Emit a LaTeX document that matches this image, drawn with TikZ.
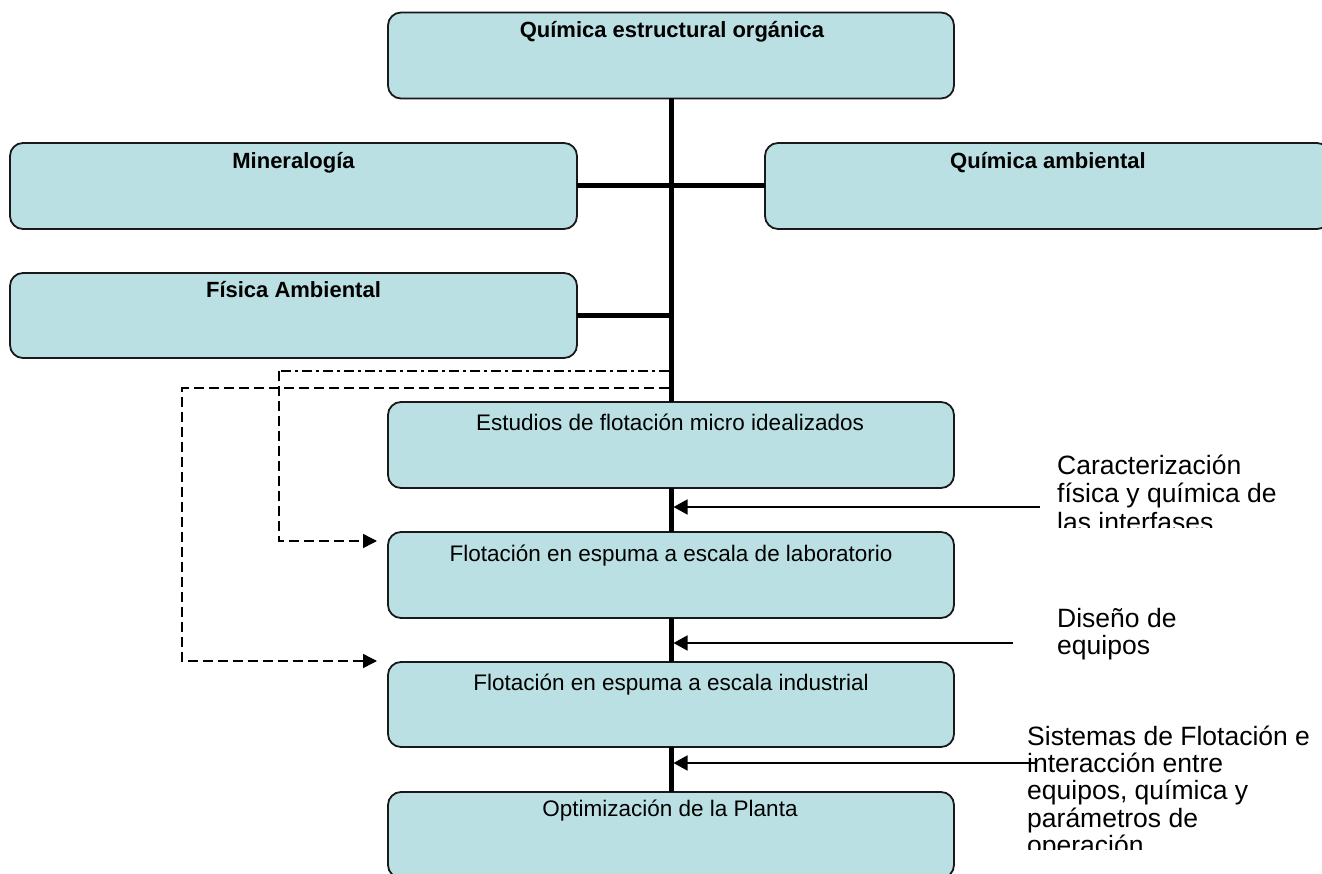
\documentclass[tikz,border=0pt]{standalone}
\usepackage{fontspec}
\setmainfont{Liberation Sans}
\usetikzlibrary{arrows.meta,calc}
\definecolor{boxfill}{RGB}{186,224,227}
\definecolor{boxline}{RGB}{25,25,25}

\begin{document}
\begin{tikzpicture}[x=1pt,y=-1pt,
  stagebox/.style={draw=boxline, line width=1.8pt, fill=boxfill, rounded corners=13pt,
    minimum width=566pt, minimum height=86pt, inner sep=0pt, outer sep=0pt},
  boxtitle/.style={anchor=base, inner sep=0pt, font=\fontsize{22}{26}\selectfont\bfseries},
  boxtext/.style={anchor=base, inner sep=0pt, font=\fontsize{22.5}{27}\selectfont},
  % multi-line labels: the base anchor sits on the last line
  sidetext/.style={anchor=base west, align=left, inner sep=0pt,
    font=\fontsize{26.5}{27.5}\selectfont},
  trunk/.style={line width=5pt},
  feed/.style={line width=1.5pt, -{Triangle[length=14pt,width=15pt]}},
  loopdash/.style={line width=1.5pt, dash pattern=on 10pt off 5pt},
  loopdashdot/.style={line width=1.5pt, dash pattern=on 10pt off 4pt on 3pt off 4pt},
  looptip/.style={-{Triangle[length=14pt,width=14pt]}},
]
\clip (0,0) rectangle (1322,874);
\fill[white] (0,0) rectangle (1322,874);

% main stages
\node[stagebox] (qeo) at (671,55.5) {};
\node[stagebox, minimum width=567pt] (min) at (293.5,186) {};
\node[stagebox, minimum width=565pt] (qamb) at (1047.5,186) {};
\node[stagebox, minimum width=567pt, minimum height=85pt] (fis) at (293.5,315.5) {};
\node[stagebox] (est) at (671,445) {};
\node[stagebox] (lab) at (671,575) {};
\node[stagebox, minimum height=85pt] (ind) at (671,704.5) {};
\node[stagebox] (opt) at (671,835) {};

% stage titles
\node[boxtitle] (qeo-t) at (672,38) {Química estructural orgánica};
\node[boxtitle] (min-t) at (293.5,169) {Mineralogía};
\node[boxtitle] (qamb-t) at (1048,169) {Química ambiental};
\node[boxtitle] (fis-t) at (293.5,298) {Física Ambiental};
\node[boxtext] (est-t) at (670,430) {Estudios de flotación micro idealizados};
\node[boxtext] (lab-t) at (671,561) {Flotación en espuma a escala de laboratorio};
\node[boxtext] (ind-t) at (671,690) {Flotación en espuma a escala industrial};
\node[boxtext] (opt-t) at (670,816) {Optimización de la Planta};

% central trunk and branches
\draw[trunk] (qeo.south) -- (est.north);
\draw[trunk] (min.east) -- (qamb.west);
\draw[trunk] (fis.east) -- (fis.east -| qeo.south);
\draw[trunk] (est.south) -- (lab.north);
\draw[trunk] (lab.south) -- (ind.north);
\draw[trunk] (ind.south) -- (opt.north);

% inputs entering the trunk from the right
\coordinate (in1) at (1040,507);
\coordinate (in2) at (1013,643);
\coordinate (in3) at (1037,763);
\coordinate (t1) at (673.5,507);
\coordinate (t2) at (673.5,643);
\coordinate (t3) at (673.5,763);
\draw[feed] (in1) -- (t1);
\draw[feed] (in2) -- (t2);
\draw[feed] (in3) -- (t3);

% feedback loops on the left
\coordinate (l1s) at (668.5,371);
\coordinate (l1c) at (279,371);
\coordinate (l1e) at (377,541);
\coordinate (l2s) at (668.5,388);
\coordinate (l2e) at (377,661);
\draw[loopdashdot] (l1s) -- (l1c);
\draw[loopdash, looptip] (l1c) |- (l1e);
\draw[loopdash, looptip] (l2s) -| (182,661) -- (l2e);

% side labels (text frames cut off their last line)
\begin{scope}
  \clip (1040,440) rectangle (1322,527);
  \node[sidetext, font=\fontsize{26.5}{28.3}\selectfont] (car) at (1057,531)
    {Caracterización\\física y química de\\las interfases};
\end{scope}
\node[sidetext] (dis) at (1057,654.5) {Diseño de\\equipos};
\begin{scope}
  \clip (1020,715) rectangle (1322,849);
  \node[sidetext, font=\fontsize{26.5}{27.3}\selectfont] (sis) at (1027,854.5)
    {Sistemas de Flotación e\\interacción entre\\equipos, química y\\parámetros de\\operación};
\end{scope}
\end{tikzpicture}
\end{document}
